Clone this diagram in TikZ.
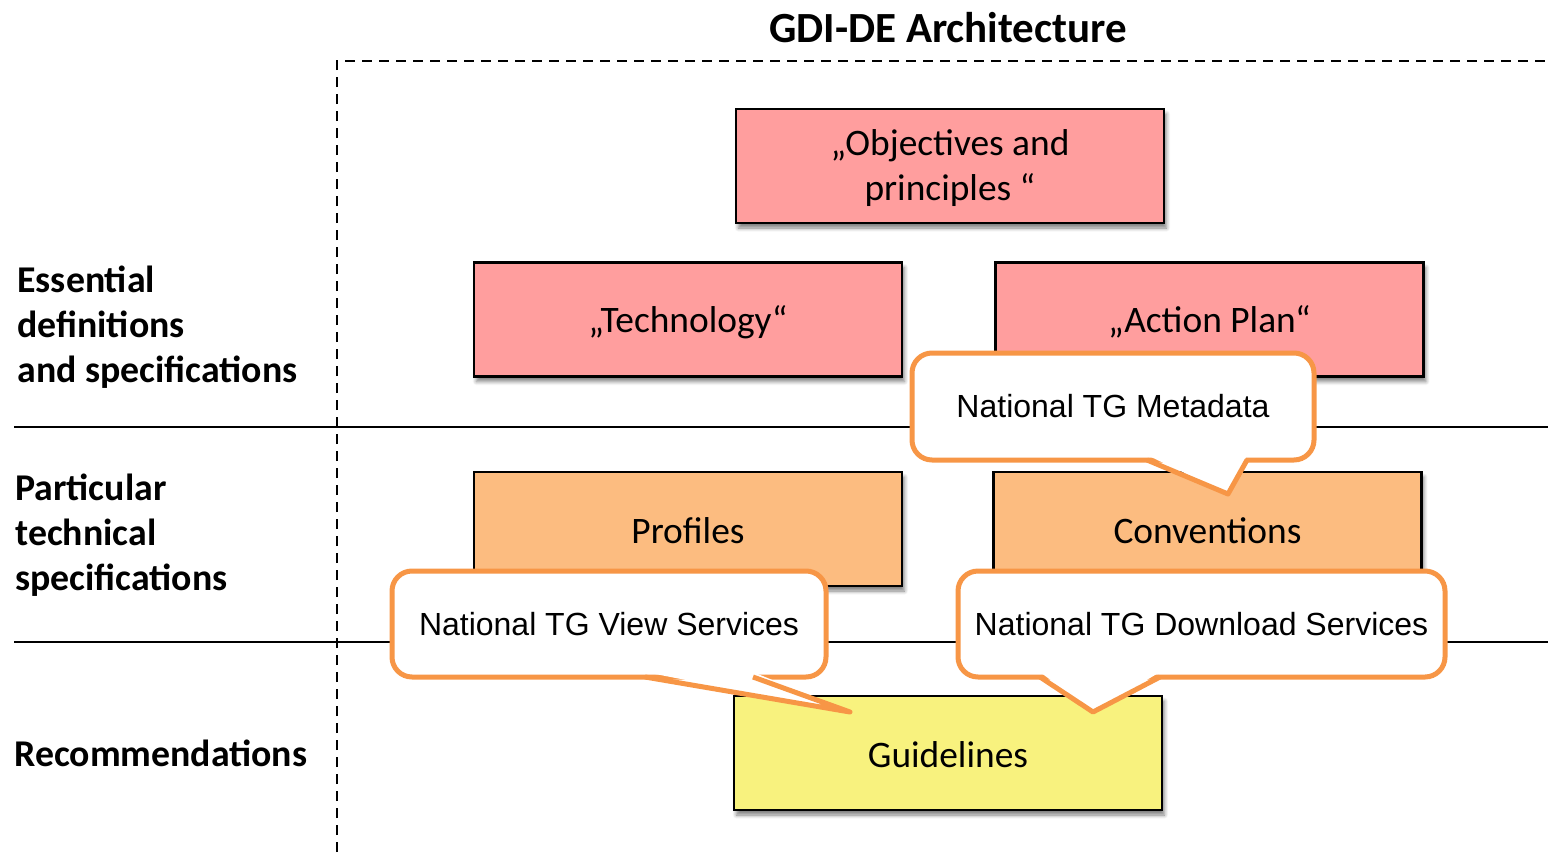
\documentclass[tikz,border=0pt]{standalone}
\usepackage{fontspec}
\setmainfont{Carlito}
\newfontfamily\arialf{Liberation Sans}
\usetikzlibrary{shadows.blur}
\definecolor{pinkf}{HTML}{FF9E9E}
\definecolor{orangef}{HTML}{FCBC80}
\definecolor{yellowf}{HTML}{F8F27E}
\definecolor{callorange}{HTML}{F79646}
\begin{document}
\begin{tikzpicture}[x=0.5pt,y=-0.5pt,
  box/.style={draw=black, line width=1.2pt, minimum width=214pt, minimum height=57pt,
    inner sep=0pt, align=center, font=\fontsize{18.7}{22.5}\selectfont,
    blur shadow={shadow xshift=1.2pt, shadow yshift=-2.5pt, shadow blur steps=6, shadow opacity=50}},
  boxtext/.style={inner sep=0pt, align=center, font=\fontsize{18.7}{22.5}\selectfont},
  sideLabel/.style={anchor=west, align=left, inner sep=0pt, font=\bfseries\fontsize{18.9}{22.5}\selectfont},
  callbox/.style={draw=callorange, fill=white, line width=2.5pt, rounded corners=10pt,
    inner sep=0pt, align=center, font=\arialf\fontsize{16}{19}\selectfont},
  callside/.style={draw=callorange, line width=2.5pt, line join=round},
  sepline/.style={line width=1pt, black},
  dashline/.style={line width=1.2pt, black, dash pattern=on 5pt off 3.5pt}]
\useasboundingbox (0,0) rectangle (1548,852);

% title
\node[font=\bfseries\fontsize{21.5}{24}\selectfont] (title) at (948,28) {GDI-DE Architecture};

% frame lines
\coordinate (dtop) at (337,61);
\coordinate (dright) at (1548,61);
\coordinate (dbottom) at (337,852);
\draw[dashline] (dbottom) -- (dtop) -- (dright);
\coordinate (l1a) at (14,427);
\coordinate (l1b) at (1548,427);
\coordinate (l2a) at (14,642);
\coordinate (l2b) at (1548,642);
\draw[sepline] (l1a) -- (l1b);
\draw[sepline] (l2a) -- (l2b);

% side labels
\node[sideLabel] (ess) at (17,327) {Essential\\definitions\\and specifications};
\node[sideLabel] (part) at (15,535) {Particular\\technical\\specifications};
\node[sideLabel] (rec) at (14,753) {Recommendations};

% boxes
\node[box, fill=pinkf] (obj) at (950,166) {};
\node[boxtext] (objt) at (950,168) {„Objectives and\\principles “};
\node[box, fill=pinkf] (tech) at (688,319.5) {};
\node[boxtext] (techt) at (688,322) {„Technology“};
\node[box, fill=pinkf] (act) at (1209.5,319.5) {};
\node[boxtext] (actt) at (1209.5,322) {„Action Plan“};
\node[box, fill=orangef] (prof) at (688,529) {};
\node[boxtext] (proft) at (688,531) {Profiles};
\node[box, fill=orangef] (conv) at (1207.5,529) {};
\node[boxtext] (convt) at (1207.5,531) {Conventions};
\node[box, fill=yellowf] (guide) at (948,753) {};
\node[boxtext] (guidet) at (948,755) {Guidelines};

% callout: metadata
\node[callbox, minimum width=201pt, minimum height=53.5pt] (cmeta) at (1113,406.5) {National TG Metadata};
\coordinate (tmeta) at (1228,494);
\fill[white] (1147,455) -- (tmeta) -- (1247,455) -- cycle;
\draw[callside] (1147,460) -- (tmeta) -- (1247,460);

% callout: view
\node[callbox, minimum width=217pt, minimum height=53pt] (cview) at (609,624) {National TG View Services};
\coordinate (tview) at (850,712);
\fill[white] (645,672) -- (tview) -- (753,672) -- cycle;
\draw[callside] (645,677) -- (tview) -- (753,677);

% callout: download
\node[callbox, minimum width=243.5pt, minimum height=53pt] (cdown) at (1201.5,624) {National TG Download Services};
\coordinate (tdown) at (1093,712);
\fill[white] (1040,672) -- (tdown) -- (1160,672) -- cycle;
\draw[callside] (1040,677) -- (tdown) -- (1160,677);
\end{tikzpicture}
\end{document}
